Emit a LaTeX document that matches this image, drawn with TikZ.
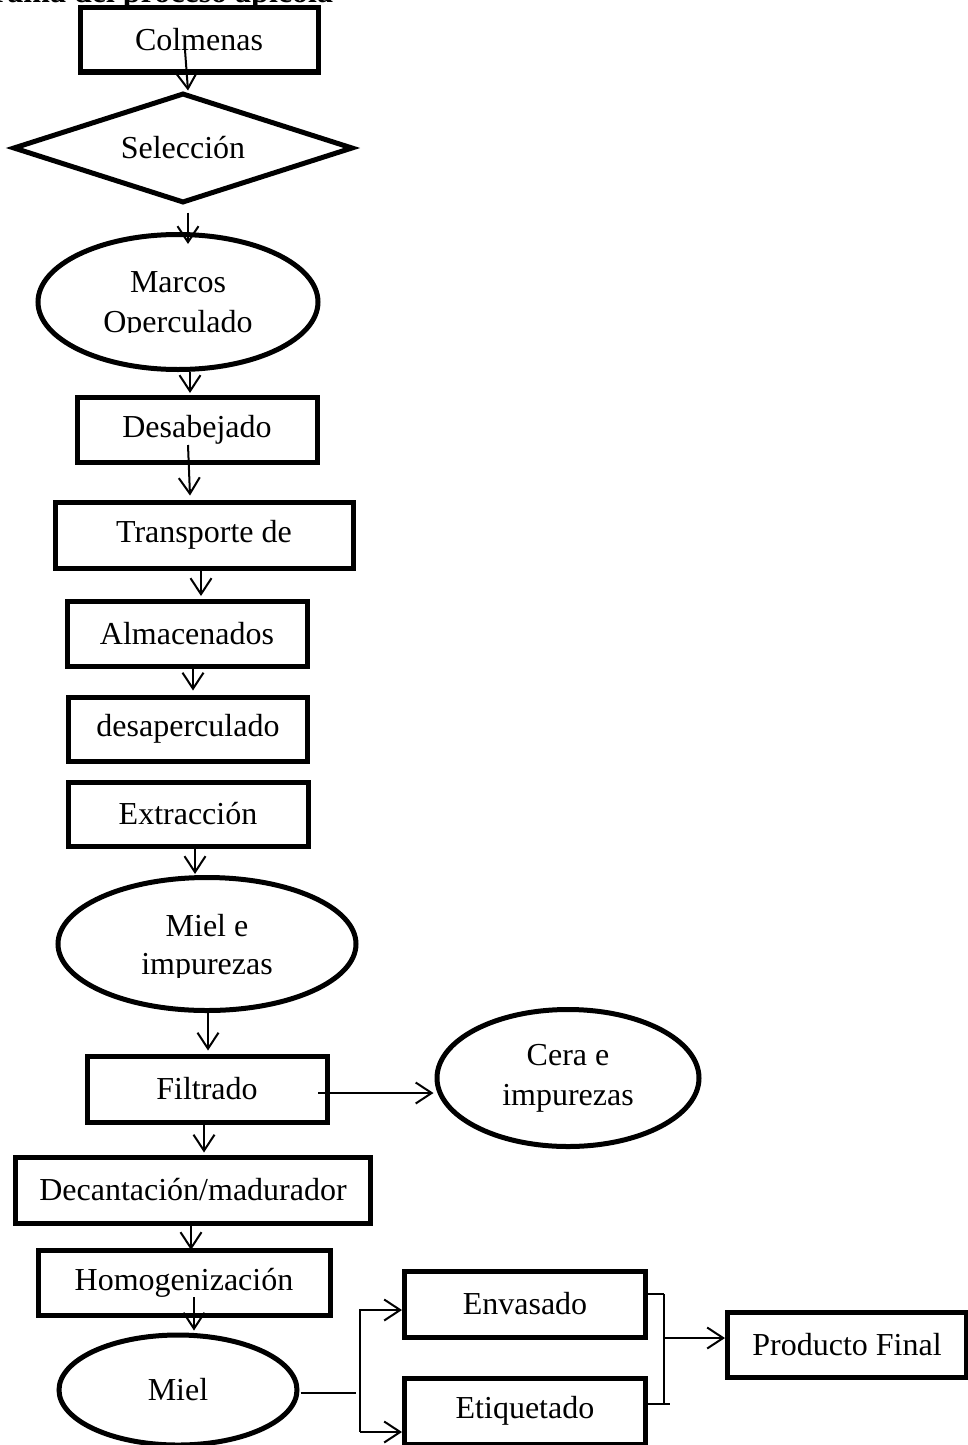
\documentclass[tikz,border=0pt]{standalone}
\usepackage{fontspec}
\setmainfont{Liberation Serif}
\usetikzlibrary{shapes.geometric,arrows.meta}
\begin{document}
\begin{tikzpicture}[x=1pt,y=-1pt,
  every node/.style={font=\fontsize{32}{40}\selectfont},
  boxnode/.style={draw, line width=5pt, rectangle, inner sep=0pt},
  ellnode/.style={draw, line width=5pt, ellipse, inner sep=0pt, align=center},
  dianode/.style={draw, line width=5pt, diamond, aspect=3.1, inner sep=0pt},
  arr/.style={line width=2pt, -{Straight Barb[length=16pt,width=21pt,line width=2pt]}},
  ln/.style={line width=2pt}]
\useasboundingbox (0,0) rectangle (968,1445);
\clip (0,0) rectangle (968,1445);
% title (cut at top)
\node[anchor=base west, inner sep=0pt, font=\fontsize{32}{40}\selectfont\bfseries] (title) at (-7,3) {rama del proceso apicola};
% nodes
\node[boxnode, minimum width=238pt, minimum height=64pt] (colm) at (199,40) {Colmenas};
\node[dianode, minimum width=340pt, minimum height=110pt] (sel) at (183,148) {Selección};
\node[ellnode, minimum width=280pt, minimum height=135pt, text depth=0pt] (marcos) at (178,302) {Marcos\\Operculado};
\node[boxnode, minimum width=240pt, minimum height=65pt] (desab) at (197,430) {Desabejado};
\node[boxnode, minimum width=298pt, minimum height=66pt] (transp) at (204,535) {Transporte de};
\node[boxnode, minimum width=240pt, minimum height=65pt] (alm) at (187,634) {Almacenados};
\node[boxnode, minimum width=239pt, minimum height=64pt] (desap) at (188,729) {desaperculado};
\node[boxnode, minimum width=240pt, minimum height=64pt] (extr) at (188,814) {Extracción};
\node[ellnode, minimum width=298pt, minimum height=133pt, text depth=0pt,
      font=\fontsize{32}{38}\selectfont] (mielimp) at (207,944) {Miel e\\impurezas};
\node[boxnode, minimum width=240pt, minimum height=66pt] (filt) at (207,1089) {Filtrado};
\node[ellnode, minimum width=262pt, minimum height=137pt] (cera) at (568,1078) {Cera e\\impurezas};
\node[boxnode, minimum width=355pt, minimum height=66pt] (decant) at (193,1190) {Decantación/madurador};
\node[boxnode, minimum width=292pt, minimum height=65pt] (homog) at (184,1283) {Homogenización};
\node[ellnode, minimum width=238pt, minimum height=110pt] (miel) at (178,1390) {Miel};
\node[boxnode, minimum width=241pt, minimum height=66pt] (envas) at (525,1304) {Envasado};
\node[boxnode, minimum width=241pt, minimum height=66pt] (etiq) at (525,1411) {Etiquetado};
\node[boxnode, minimum width=239pt, minimum height=65pt] (prod) at (847,1345) {Producto Final};
% cut-off text bottoms inside the two ellipses
\fill[white] ([shift={(-80,31)}]marcos.center) rectangle ([shift={(80,45)}]marcos.center);
\fill[white] ([shift={(-80,34)}]mielimp.center) rectangle ([shift={(80,46)}]mielimp.center);
% connectors
\draw[arr] ([shift={(-14,10)}]colm.center) -- ([shift={(5,0)}]sel.north);
\draw[arr] ([shift={(5,7)}]sel.south) -- ([shift={(10,12)}]marcos.north);
\draw[arr] ([shift={(12,0)}]marcos.south) -- ([shift={(-7,-2)}]desab.north);
\draw[arr] ([shift={(-9,15)}]desab.center) -- ([shift={(-14,-4)}]transp.north);
\draw[arr] ([shift={(-3,0)}]transp.south) -- ([shift={(14,-3)}]alm.north);
\draw[arr] ([shift={(6,0)}]alm.south) -- ([shift={(5,-4)}]desap.north);
\draw[arr] ([shift={(7,0)}]extr.south) -- ([shift={(-12,-1)}]mielimp.north);
\draw[arr] ([shift={(1,0)}]mielimp.south) -- ([shift={(1,-3)}]filt.north);
\draw[arr] ([shift={(111,4)}]filt.center) -- ([shift={(-1,15)}]cera.west);
\draw[arr] ([shift={(-3,0)}]filt.south) -- ([shift={(11,-2)}]decant.north);
\draw[arr] ([shift={(-2,0)}]decant.south) -- ([shift={(7,2)}]homog.north);
\draw[arr] ([shift={(10,14)}]homog.center) -- ([shift={(16,-2)}]miel.north);
% fork from Miel
\coordinate (mend) at (356,1393);
\coordinate (ftop) at (360,1309);
\coordinate (fbot) at (360,1432);
\draw[ln] ([shift={(1,3)}]miel.east) -- (mend);
\draw[ln] (ftop) -- (fbot);
\draw[arr] (ftop |- envas.west) ++(0,6) -- ([shift={(0,6)}]envas.west);
\draw[arr] (fbot) -- ([shift={(0,21)}]etiq.west);
% join to Producto Final
\coordinate (jtop) at (664,1294);
\coordinate (jbot) at (664,1404);
\coordinate (jbotr) at (670,1404);
\coordinate (jmid) at (664,1338);
\draw[ln] ([shift={(0,-10)}]envas.east) -- (jtop);
\draw[ln] (jtop) -- (jbot);
\draw[ln] ([shift={(0,-7)}]etiq.east) -- (jbotr);
\draw[arr] (jmid) -- ([shift={(0,-7)}]prod.west);
\end{tikzpicture}
\end{document}
